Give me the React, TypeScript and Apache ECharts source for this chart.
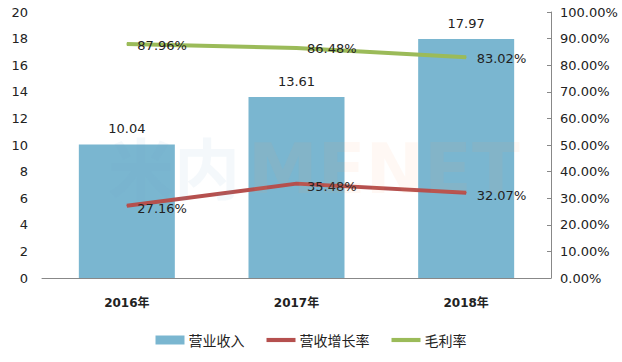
import React, { useEffect, useRef } from "react";
import * as echarts from "echarts";

const categories = ["2016年", "2017年", "2018年"];
const revenue = [10.04, 13.61, 17.97];
const growthRate = [0.2716, 0.3548, 0.3207];
const grossMargin = [0.8796, 0.8648, 0.8302];
const seriesNames = ["营业收入", "营收增长率", "毛利率"];

const FONT = "'DejaVu Sans', 'Noto Sans CJK SC', sans-serif";
const pct = (v: number) => (v * 100).toFixed(2) + "%";
const LINE_ICON = "path://M0,0L28,0L28,4L0,4Z";

export default function App() {
  const ref = useRef<HTMLDivElement>(null);
  useEffect(() => {
    if (!ref.current) return;
    const chart = echarts.init(ref.current, undefined, { renderer: "svg" });
    const lineLabel = (offsetY: number) => ({
      show: true,
      position: "right",
      distance: 10,
      offset: [0, offsetY],
      fontSize: 13,
      color: "#222",
      formatter: (p: any) => pct(p.value),
      fontFamily: FONT,
    });
    chart.setOption({
      animation: false,
      backgroundColor: "#fff",
      textStyle: { fontFamily: FONT },
      grid: { left: 42, right: 71, top: 12, bottom: 84 },
      legend: {
        bottom: 10,
        left: "center",
        itemWidth: 29,
        itemHeight: 9,
        itemGap: 22,
        symbolKeepAspect: true,
        textStyle: { fontSize: 14, color: "#222", fontFamily: "'Noto Sans CJK SC', sans-serif", padding: [0, 0, 0, -1] },
        data: [
          { name: seriesNames[0], icon: "rect" },
          { name: seriesNames[1], icon: LINE_ICON },
          { name: seriesNames[2], icon: LINE_ICON },
        ],
      },
      graphic: [
        {
          type: "text",
          left: 108,
          top: 132,
          z: 100,
          silent: true,
          style: { text: "米内", font: "bold 66px 'Noto Sans CJK SC'", fill: "rgba(110,165,200,0.08)" },
        },
        {
          type: "text",
          left: 248,
          top: 134,
          z: 100,
          silent: true,
          style: { text: "MENET", font: "bold 70px 'DejaVu Sans'", fill: "rgba(250,160,100,0.07)" },
        },
      ],
      xAxis: {
        type: "category",
        data: categories,
        axisLine: { show: true, lineStyle: { color: "#888" } },
        axisTick: { show: false },
        axisLabel: { margin: 19, fontSize: 12, color: "#222", fontWeight: "bold", fontFamily: FONT },
      },
      yAxis: [
        {
          type: "value",
          min: 0,
          max: 20,
          interval: 2,
          axisLine: { show: false },
          axisTick: { show: false },
          splitLine: { show: false },
          axisLabel: { fontSize: 13, color: "#222", margin: 14, fontFamily: FONT },
        },
        {
          type: "value",
          min: 0,
          max: 1,
          interval: 0.1,
          position: "right",
          axisLine: { show: true, lineStyle: { color: "#888" } },
          axisTick: { show: true, inside: true, length: 4, lineStyle: { color: "#888" } },
          splitLine: { show: false },
          axisLabel: { fontSize: 13, color: "#222", margin: 9, formatter: pct, fontFamily: FONT },
        },
      ],
      series: [
        {
          name: seriesNames[0],
          type: "bar",
          data: revenue,
          barWidth: 96,
          itemStyle: { color: "#7AB6D0" },
          label: { show: true, position: "top", distance: 9, fontSize: 13, color: "#222", fontFamily: FONT },
        },
        {
          name: seriesNames[1],
          type: "line",
          yAxisIndex: 1,
          data: growthRate,
          symbol: "circle",
          symbolSize: 1,
          showSymbol: true,
          lineStyle: { width: 4, color: "#B5504E" },
          itemStyle: { color: "#B5504E" },
          label: lineLabel(3),
        },
        {
          name: seriesNames[2],
          type: "line",
          yAxisIndex: 1,
          data: grossMargin,
          symbol: "circle",
          symbolSize: 1,
          showSymbol: true,
          lineStyle: { width: 4, color: "#9BBB59" },
          itemStyle: { color: "#9BBB59" },
          label: lineLabel(1),
        },
      ],
    });
    return () => chart.dispose();
  }, []);
  return <div ref={ref} style={{ width: 622, height: 362, position: "absolute", left: 0, top: 0 }} />;
}
